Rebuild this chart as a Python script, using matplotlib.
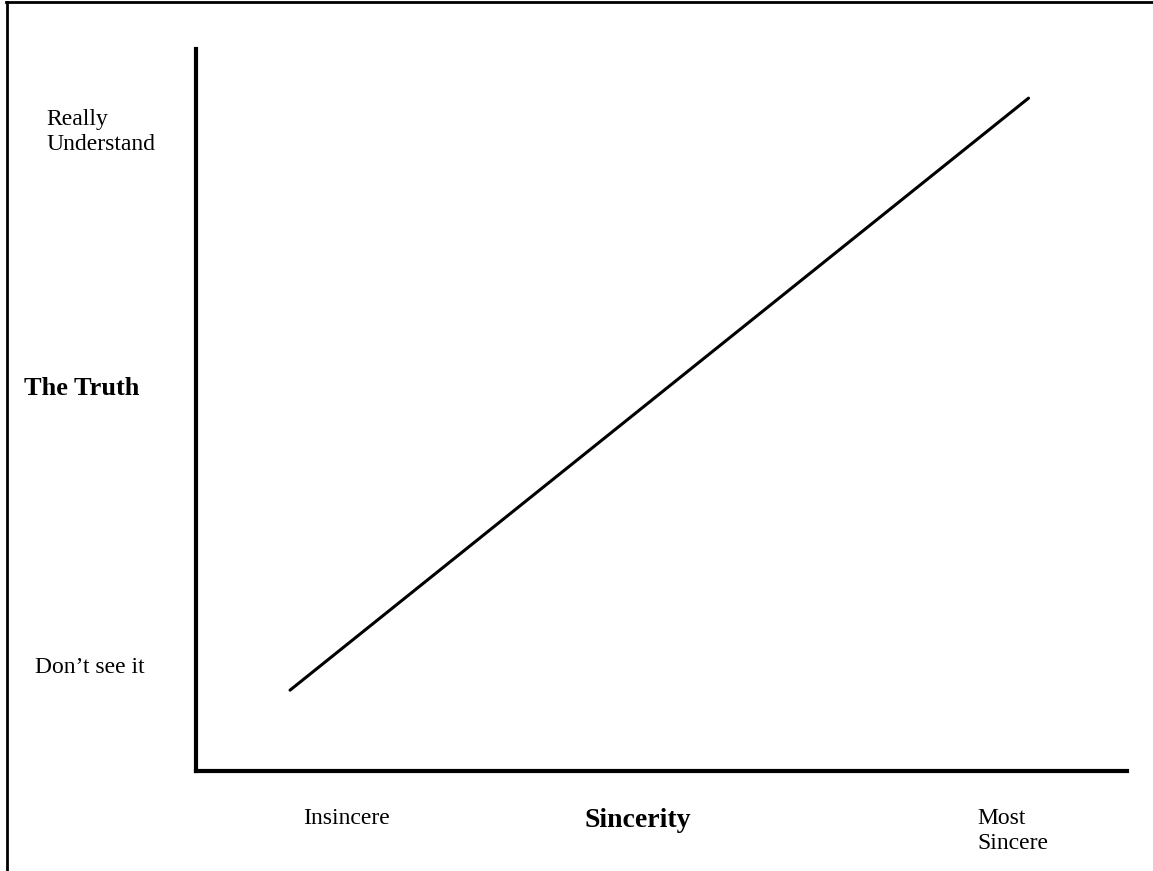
import matplotlib
matplotlib.use("Agg")
import matplotlib.pyplot as plt
from matplotlib.lines import Line2D

# Data
sincerity = [1, 10]          # Insincere -> Most Sincere
truth = [1, 10]              # Don't see it -> Really Understand
x_labels = ["Insincere", "Sincerity", "Most\nSincere"]
y_labels = ["Really\nUnderstand", "The Truth", "Don\u2019t see it"]

W, H = 1153, 871
DPI = 100
plt.rcParams['font.family'] = ['Liberation Serif', 'DejaVu Serif']

fig = plt.figure(figsize=(W / DPI, H / DPI), dpi=DPI)
fig.patch.set_facecolor('white')

def fx(px):
    return px / W

def fy(py):
    return 1 - py / H

# axes in pixel placement
ax_left, ax_right, ax_top, ax_bottom = 196, 1127, 49, 771
ax = fig.add_axes([fx(ax_left), fy(ax_bottom), (ax_right - ax_left) / W, (ax_bottom - ax_top) / H])
ax.set_xlim(-0.146, 11.2)
ax.set_ylim(-0.229, 10.747)
ax.plot(sincerity, truth, color='black', lw=2.2, solid_capstyle='round')
for s in ['top', 'right']:
    ax.spines[s].set_visible(False)
for s in ['left', 'bottom']:
    ax.spines[s].set_linewidth(3.0)
    ax.spines[s].set_color('black')
ax.set_xticks([])
ax.set_yticks([])
ax.set_facecolor('white')

# frame lines (top and left)
fig.add_artist(Line2D([fx(6), 1], [fy(2.5), fy(2.5)], transform=fig.transFigure, color='black', lw=2.0))
fig.add_artist(Line2D([fx(6.5), fx(6.5)], [fy(2), 0], transform=fig.transFigure, color='black', lw=2.0))

fs = 17
fsb = 19
# y labels
fig.text(fx(46), fy(132), y_labels[0], fontsize=fs, ha='left', va='center', linespacing=1.3)
fig.text(fx(24), fy(388), y_labels[1], fontsize=fsb, fontweight='bold', ha='left', va='center')
fig.text(fx(35), fy(667), y_labels[2], fontsize=fs, ha='left', va='center')
# x labels
fig.text(fx(303), fy(818), x_labels[0], fontsize=fs, ha='left', va='center')
fig.text(fx(584), fy(820), x_labels[1], fontsize=20, fontweight='bold', ha='left', va='center')
fig.text(fx(977), fy(831), x_labels[2], fontsize=fs, ha='left', va='center', linespacing=1.3)

fig.savefig('out.png', dpi=DPI, facecolor='white')
